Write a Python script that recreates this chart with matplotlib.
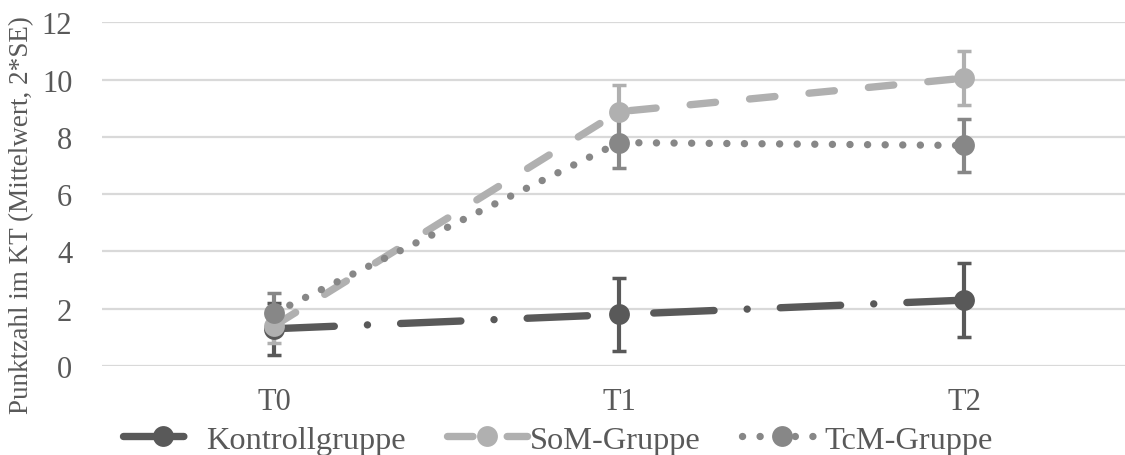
import matplotlib
matplotlib.use("Agg")
import matplotlib.pyplot as plt
from matplotlib.lines import Line2D

categories = ["T0", "T1", "T2"]
kontroll = [1.3, 1.8, 2.3]
kontroll_err = [0.9, 1.27, 1.3]
som = [1.4, 8.88, 10.05]
som_err = [0.6, 0.93, 0.95]
tcm = [1.85, 7.8, 7.7]
tcm_err = [0.7, 0.9, 0.93]
series_names = ["Kontrollgruppe", "SoM-Gruppe", "TcM-Gruppe"]
yticks = [0, 2, 4, 6, 8, 10, 12]

plt.rcParams['font.family'] = ['Liberation Serif', 'DejaVu Serif']

fig = plt.figure(figsize=(11.25, 4.56), dpi=100)
ax = fig.add_axes([101.5/1125, (456-367)/456, 1035/1125, (367-23.3)/456])

colors = ["#595959", "#b0b0b0", "#878787"]
styles = [(0, (8.2, 4.5, 0.01, 4.5)), (0, (3.46, 4.65)), (0, (0.01, 2.38))]
lw = 5.3
xs = list(range(len(categories)))
handles = []
for vals, errs, c, ls, name in zip([kontroll, som, tcm], [kontroll_err, som_err, tcm_err],
                                   colors, styles, series_names):
    ax.errorbar(xs, vals, yerr=errs, fmt='none', ecolor=c, elinewidth=3,
                capsize=4.8, capthick=2.5, zorder=3)
    ln, = ax.plot(xs, vals, color=c, lw=lw, linestyle=ls, dash_capstyle='round',
                  marker='o', markersize=15, markeredgewidth=0, zorder=4, label=name)
    handles.append(ln)

ax.set_xlim(-0.5, 2.5)
ax.set_ylim(0, 12)
ax.set_yticks(yticks)
ax.set_xticks(xs)
ax.set_xticklabels(categories)
ax.grid(axis='y', color='#d9d9d9', lw=1.6)
ax.set_axisbelow(True)
for s in ax.spines.values():
    s.set_visible(False)
ax.tick_params(axis='both', length=0, labelsize=22, colors='#595959')
ax.tick_params(axis='y', pad=21)
ax.tick_params(axis='x', pad=15)

fig.text(22/1125, 1-215/456, "Punktzahl im KT (Mittelwert, 2*SE)", rotation=90,
         ha='center', va='center', fontsize=19.5, color='#595959')

leg = fig.legend(handles=handles, loc='center', bbox_to_anchor=(558/1125, 1-441/456),
                 ncol=3, frameon=False, fontsize=23.3, handlelength=2.47,
                 handletextpad=0.1, columnspacing=1.27, borderaxespad=0)
for t in leg.get_texts():
    t.set_color('#595959')

fig.savefig("out.png", dpi=100)
